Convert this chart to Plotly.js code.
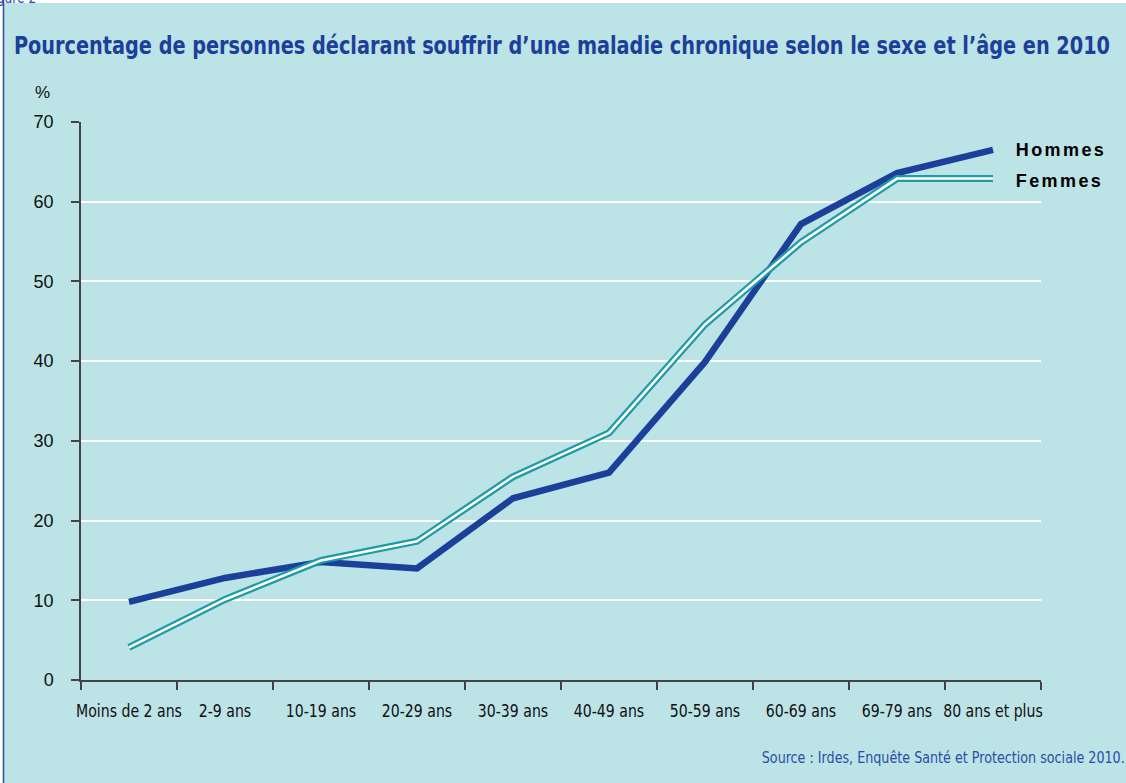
<!DOCTYPE html>
<html>
<head>
<meta charset="utf-8">
<script src="https://cdn.plot.ly/plotly-3.0.1.min.js"></script>
<style>
  html, body { margin: 0; padding: 0; background: #ffffff; }
  #chart { width: 1126px; height: 783px; }
</style>
</head>
<body>
<div id="chart"></div>
<script>
const categories = ["Moins de 2 ans", "2-9 ans", "10-19 ans", "20-29 ans", "30-39 ans",
                    "40-49 ans", "50-59 ans", "60-69 ans", "69-79 ans", "80 ans et plus"];
const hommes = [9.8, 12.8, 14.8, 14.0, 22.8, 26.0, 39.9, 57.2, 63.6, 66.5];
const femmes = [4.1, 10.1, 15.0, 17.4, 25.5, 31.0, 44.6, 54.9, 62.9, 62.9];
const yTicks = [0, 10, 20, 30, 40, 50, 60, 70];

const W = 1126, H = 783;
const ML = 81, MR = 85, MT = 122, MB = 103;
const PW = W - ML - MR, PH = H - MT - MB;
const px = function (x) { return (x - ML) / PW; };
const py = function (y) { return (H - MB - y) / PH; };

const narrow = '"Liberation Sans Narrow", "Arial Narrow", "DejaVu Sans Condensed", sans-serif';
const sans = '"Liberation Sans", Arial, sans-serif';
const bg = '#bce3e6';

const traces = [
  { x: categories, y: hommes, type: 'scatter', mode: 'lines', name: 'Hommes',
    line: { color: '#1c3f9a', width: 6.5 }, hoverinfo: 'x+y' },
  { x: categories, y: femmes, type: 'scatter', mode: 'lines', name: 'Femmes',
    line: { color: '#1d9ba6', width: 7 }, hoverinfo: 'x+y' },
  { x: categories, y: femmes, type: 'scatter', mode: 'lines', name: 'Femmes (centre)',
    line: { color: '#ffffff', width: 2.5 }, hoverinfo: 'skip', showlegend: false }
];

const layout = {
  width: W, height: H,
  paper_bgcolor: bg, plot_bgcolor: bg,
  showlegend: false,
  margin: { l: ML, r: MR, t: MT, b: MB },
  title: {
    text: 'Pourcentage de personnes déclarant souffrir d’une maladie chronique selon le sexe et l’âge en 2010',
    font: { family: narrow, size: 25, color: '#1c3f9a', weight: 'bold' },
    xref: 'container', yref: 'container',
    x: 14 / W, xanchor: 'left', y: 1 - 45 / H, yanchor: 'middle'
  },
  xaxis: {
    type: 'category',
    tickvals: categories, ticktext: categories,
    tickson: 'boundaries',
    tickangle: 0,
    ticks: 'outside', ticklen: 8, tickwidth: 1.5, tickcolor: '#444',
    showline: true, linecolor: '#444', linewidth: 1.5,
    showgrid: false, zeroline: false,
    tickfont: { family: narrow, size: 18, color: '#111' },
    ticklabelstandoff: 14,
    range: [-0.5, 9.5]
  },
  yaxis: {
    range: [0, 70],
    tickvals: yTicks,
    ticks: 'outside', ticklen: 8, tickwidth: 1.5, tickcolor: '#444',
    showline: true, linecolor: '#444', linewidth: 1.5,
    showgrid: true, gridcolor: '#ffffff', gridwidth: 1.5,
    zeroline: false,
    tickfont: { family: sans, size: 18, color: '#111' },
    ticklabelstandoff: 14
  },
  shapes: [
    { type: 'rect', xref: 'paper', yref: 'paper', x0: px(0), x1: px(W), y0: py(3), y1: py(0),
      fillcolor: '#ffffff', line: { width: 0 }, layer: 'below' },
    { type: 'rect', xref: 'paper', yref: 'paper', x0: px(0), x1: px(3), y0: py(H), y1: py(0),
      fillcolor: '#ffffff', line: { width: 0 }, layer: 'below' },
    { type: 'line', xref: 'paper', yref: 'paper', x0: px(3.5), x1: px(3.5), y0: py(H), y1: py(0),
      line: { color: '#2a4ea8', width: 1.5 }, layer: 'below' }
  ],
  annotations: [
    { text: '%', xref: 'paper', yref: 'paper', x: px(42), y: py(92),
      xanchor: 'center', yanchor: 'middle', showarrow: false,
      font: { family: sans, size: 17, color: '#111' } },
    { text: 'Hommes', xref: 'x', yref: 'y', x: categories[9], y: hommes[9],
      xanchor: 'left', yanchor: 'middle', xshift: 28, yshift: 0, showarrow: false,
      font: { family: sans, size: 18, color: '#000', weight: 'bold' } },
    { text: 'Femmes', xref: 'x', yref: 'y', x: categories[9], y: femmes[9],
      xanchor: 'left', yanchor: 'middle', xshift: 28, yshift: -2, showarrow: false,
      font: { family: sans, size: 18, color: '#000', weight: 'bold' } },
    { text: 'Source : Irdes, Enquête Santé et Protection sociale 2010.', xref: 'paper', yref: 'paper',
      x: px(943), y: py(758), xanchor: 'center', yanchor: 'middle', showarrow: false,
      font: { family: narrow, size: 16, color: '#2a4ea8' } },
    { text: 'Figure 2', xref: 'paper', yref: 'paper',
      x: px(43), y: py(-2), xanchor: 'right', yanchor: 'middle', showarrow: false,
      font: { family: narrow, size: 16, color: '#2a4ea8' } }
  ]
};

function condense(el, factor) {
  try {
    const w = el.getComputedTextLength();
    if (w > 0) {
      el.setAttribute('textLength', (w * factor).toFixed(1));
      el.setAttribute('lengthAdjust', 'spacingAndGlyphs');
    }
  } catch (e) {}
}

Plotly.newPlot('chart', traces, layout, { displayModeBar: false }).then(function () {
  const root = document.getElementById('chart');
  const t = root.querySelector('.gtitle');
  if (t && t.getComputedTextLength() > 0) {
    t.setAttribute('textLength', '1096');
    t.setAttribute('lengthAdjust', 'spacingAndGlyphs');
  }
  root.querySelectorAll('.xtick text').forEach(function (el) { condense(el, 0.87); });
  root.querySelectorAll('.annotation-text').forEach(function (el) {
    const s = el.textContent;
    if (s === 'Hommes' || s === 'Femmes') {
      el.setAttribute('letter-spacing', '2.4');
    } else if (s.indexOf('Source') === 0) {
      if (el.getComputedTextLength() > 0) {
        el.setAttribute('textLength', '363');
        el.setAttribute('lengthAdjust', 'spacingAndGlyphs');
      }
    } else if (s === 'Figure 2') {
      condense(el, 0.85);
    }
  });
});
</script>
</body>
</html>
